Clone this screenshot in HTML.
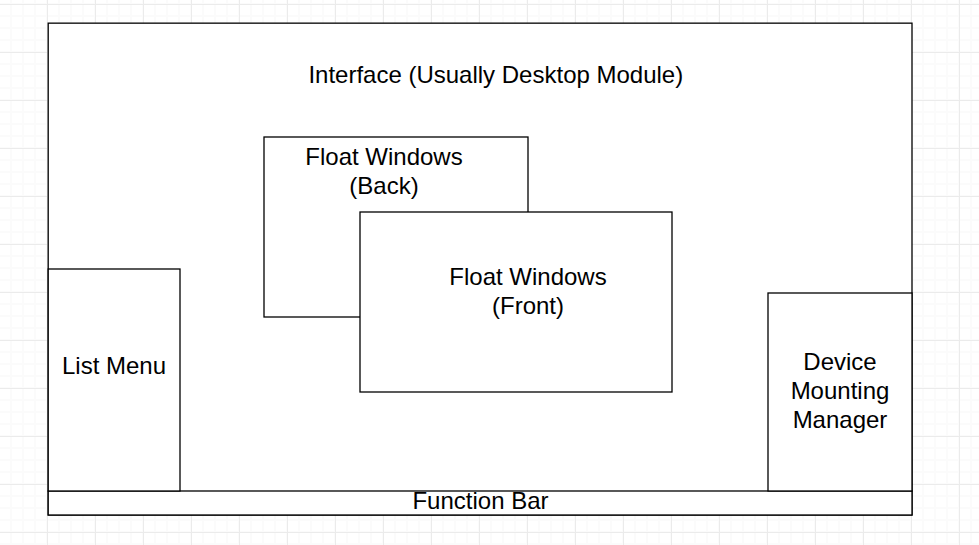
<!DOCTYPE html>
<html>
<head>
<meta charset="utf-8">
<title>Interface layout</title>
<style>
html,body{margin:0;padding:0;background:#fff;}
body{width:979px;height:545px;overflow:hidden;position:relative;}
svg{position:absolute;left:0;top:0;display:block;}
text{font-family:"Liberation Sans",Arial,sans-serif;font-size:24px;fill:#000;text-anchor:middle;}
.b{fill:#fff;stroke:#000;stroke-width:1.3;}
</style>
</head>
<body>
<svg width="979" height="545" viewBox="0 0 979 545">
  <defs>
    <pattern id="minor" x="-2" y="3" width="12" height="12" patternUnits="userSpaceOnUse">
      <rect x="0" y="0" width="2" height="12" fill="#fbfbfb"/>
      <rect x="0" y="0" width="12" height="2" fill="#fbfbfb"/>
    </pattern>
    <pattern id="major" x="-1" y="4" width="48" height="48" patternUnits="userSpaceOnUse">
      <rect x="0" y="0" width="1" height="48" fill="#ebebeb"/>
      <rect x="0" y="0" width="48" height="1" fill="#ebebeb"/>
    </pattern>
  </defs>
  <rect x="0" y="0" width="979" height="545" fill="#fff"/>
  <rect x="0" y="0" width="979" height="545" fill="url(#minor)"/>
  <rect x="0" y="0" width="979" height="545" fill="url(#major)"/>

  <!-- outer interface -->
  <rect class="b" x="48.2" y="23.15" width="863.8" height="491.85"/>
  <!-- function bar -->
  <rect class="b" x="48.2" y="491" width="863.8" height="24"/>
  <!-- list menu -->
  <rect class="b" x="48.2" y="269" width="131.8" height="222"/>
  <!-- device mounting manager -->
  <rect class="b" x="768" y="293" width="144" height="198"/>
  <!-- float back -->
  <rect class="b" x="264" y="137" width="264" height="180"/>
  <!-- float front -->
  <rect class="b" x="360" y="212" width="312" height="180"/>

  <text x="495.8" y="83">Interface (Usually Desktop Module)</text>
  <text x="384" y="165">Float Windows</text>
  <text x="384" y="194">(Back)</text>
  <text x="528" y="285">Float Windows</text>
  <text x="528" y="314">(Front)</text>
  <text x="114" y="374">List Menu</text>
  <text x="840" y="370">Device</text>
  <text x="840" y="399">Mounting</text>
  <text x="840" y="428">Manager</text>
  <text x="480.5" y="509">Function Bar</text>
</svg>
</body>
</html>
